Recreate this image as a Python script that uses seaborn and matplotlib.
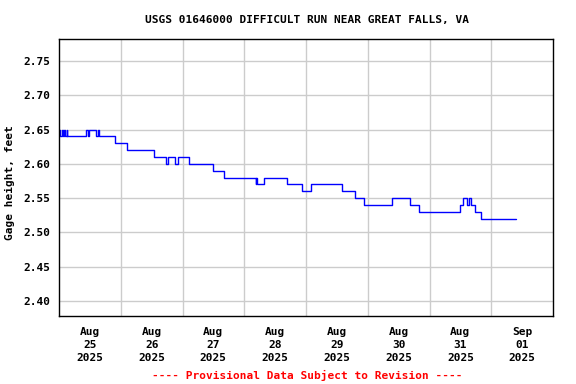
import matplotlib
matplotlib.use("Agg")
import matplotlib.pyplot as plt
import seaborn as sns
import pandas as pd

# change points: hours after 2025-08-25 00:00, gage height (ft)
hours = [0.0, 0.5, 1.0, 1.5, 2.0, 2.5, 3.0, 3.25, 10.5, 11.25, 11.5, 14.5, 15.0, 15.5,
         21.75, 26.25, 37.0, 41.75, 42.25, 45.0, 46.25, 50.5, 60.0, 64.0,
         76.5, 76.75, 77.0, 79.75, 88.5, 94.5, 98.0, 110.0, 115.0, 118.5,
         129.5, 136.5, 140.0, 156.0, 157.0, 158.75, 159.25, 160.0, 161.5, 164.0, 177.75]
values = [2.65, 2.64, 2.65, 2.64, 2.65, 2.64, 2.65, 2.64, 2.65, 2.64, 2.65, 2.64, 2.65, 2.64,
          2.63, 2.62, 2.61, 2.60, 2.61, 2.60, 2.61, 2.60, 2.59, 2.58,
          2.57, 2.58, 2.57, 2.58, 2.57, 2.56, 2.57, 2.56, 2.55, 2.54,
          2.55, 2.54, 2.53, 2.54, 2.55, 2.54, 2.55, 2.54, 2.53, 2.52, 2.52]

tick_labels = ["Aug\n25\n2025", "Aug\n26\n2025", "Aug\n27\n2025", "Aug\n28\n2025",
               "Aug\n29\n2025", "Aug\n30\n2025", "Aug\n31\n2025", "Sep\n01\n2025"]
y_ticks = [2.40, 2.45, 2.50, 2.55, 2.60, 2.65, 2.70, 2.75]

start = pd.Timestamp("2025-08-25 00:00")
df = pd.DataFrame({"time": [start + pd.Timedelta(hours=h) for h in hours],
                   "gage": values})

sns.set_style("white")
plt.rcParams["font.family"] = ["DejaVu Sans Mono"]
plt.rcParams["font.weight"] = "bold"
for k in ["text.color", "axes.labelcolor", "xtick.color", "ytick.color"]:
    plt.rcParams[k] = "black"

fig = plt.figure(figsize=(5.76, 3.84), dpi=100)
ax = fig.add_axes([59/576, 1 - 316/384, (553 - 59)/576, (316 - 39)/384])

sns.lineplot(data=df, x="time", y="gage", ax=ax, color="#0000ff",
             linewidth=1.0, drawstyle="steps-post")

ax.set_xlim(start, start + pd.Timedelta(days=8))
ax.set_ylim(2.378, 2.782)

noon = [start + pd.Timedelta(hours=12 + 24 * i) for i in range(8)]
midnight = [start + pd.Timedelta(days=i) for i in range(1, 8)]
ax.set_xticks(noon)
ax.set_xticklabels(tick_labels, fontsize=8, fontweight="bold", linespacing=1.38)
ax.set_xticks(midnight, minor=True)
ax.set_yticks(y_ticks)
ax.set_yticklabels([f"{v:.2f}" for v in y_ticks], fontsize=8, fontweight="bold")
ax.tick_params(axis="both", which="both", length=0, labelcolor="black")
ax.tick_params(axis="x", pad=8)
ax.tick_params(axis="y", pad=6)

ax.grid(False)
ax.grid(True, which="minor", axis="x", color="#cccccc", linewidth=1.0)
ax.grid(True, which="major", axis="y", color="#cccccc", linewidth=1.0)
ax.set_axisbelow(True)
for s in ax.spines.values():
    s.set_color("black")
    s.set_linewidth(1.0)

ax.set_xlabel("")
ax.set_ylabel("Gage height, feet", fontsize=8, fontweight="bold", color="black")
ax.yaxis.set_label_coords(-0.089, 0.482)

fig.text(307/576, 1 - 19.5/384, "USGS 01646000 DIFFICULT RUN NEAR GREAT FALLS, VA",
         ha="center", va="center", fontsize=8, fontweight="bold", color="black")
fig.text(307/576, 1 - 375/384, "---- Provisional Data Subject to Revision ----",
         ha="center", va="center", fontsize=8, fontweight="bold", color="red")

fig.savefig("out.png", dpi=100)
